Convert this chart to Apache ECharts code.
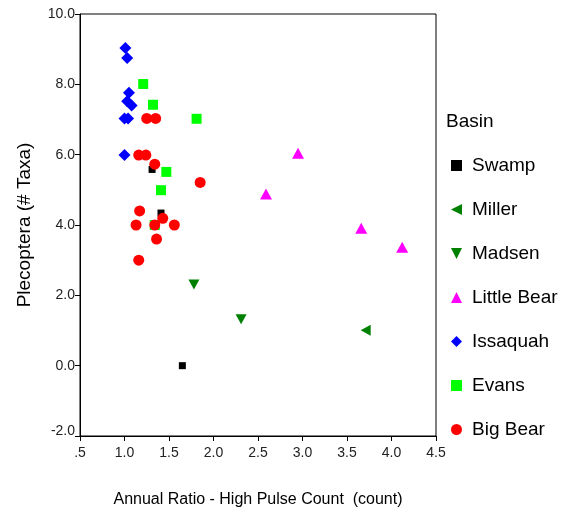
<!DOCTYPE html>
<html>
<head>
<meta charset="utf-8">
<script src="https://cdn.jsdelivr.net/npm/echarts@6/dist/echarts.min.js"></script>
<style>
  html, body { margin: 0; padding: 0; background: #fff; }
  #chart { width: 564px; height: 513px; }
</style>
</head>
<body>
<div id="chart"></div>
<script>
// [annual ratio high pulse count, plecoptera taxa]
const basins = ['Swamp', 'Miller', 'Madsen', 'Little Bear', 'Issaquah', 'Evans', 'Big Bear']
const swamp = [[1.31, 5.58], [1.41, 4.34], [1.35, 4.0], [1.65, 0.0]]
const miller = [[3.71, 1.01]]
const madsen = [[1.78, 2.31], [2.31, 1.32]]
const littleBear = [[2.95, 6.04], [2.59, 4.88], [3.66, 3.91], [4.12, 3.37]]
const issaquah = [[1.01, 9.03], [1.03, 8.75], [1.05, 7.76], [1.03, 7.52], [1.08, 7.4], [1.0, 7.03], [1.04, 7.03], [1.0, 5.99]]
const evans = [[1.21, 8.01], [1.32, 7.42], [1.81, 7.02], [1.47, 5.51], [1.41, 4.99], [1.34, 4.0]]
const bigBear = [[1.25, 7.03], [1.35, 7.03], [1.16, 5.99], [1.24, 5.99], [1.34, 5.73], [1.85, 5.21],
  [1.17, 4.4], [1.13, 4.0], [1.34, 4.0], [1.43, 4.19], [1.56, 4.0], [1.36, 3.6], [1.16, 3.0]]

const xTicks = { min: 0.5, max: 4.5, step: 0.5 }
const yTicks = { min: -2, max: 10, step: 2 }

const font = 'Liberation Sans, Arial, sans-serif'

function mk(name, data, symbol, size, color) {
  return {
    name: name,
    type: 'scatter',
    data: data,
    symbol: symbol,
    symbolSize: size,
    itemStyle: { color: color, opacity: 1 },
    emphasis: { disabled: true }
  }
}

let myChart = echarts.init(document.getElementById('chart'))
myChart.setOption({
  animation: false,
  title: {
    text: 'Basin',
    left: 441,
    top: 107,
    textStyle: { fontFamily: font, fontSize: 19, fontWeight: 'normal', color: '#000' }
  },
  legend: {
    orient: 'vertical',
    left: 446,
    top: 151,
    itemGap: 25,
    itemWidth: 11,
    itemHeight: 11,
    data: basins,
    selectedMode: false,
    textStyle: { fontFamily: font, fontSize: 19, color: '#000', padding: [0, 0, 0, 5] }
  },
  grid: {
    left: 80,
    right: 128,
    top: 14,
    bottom: 75,
    show: true,
    borderColor: '#000',
    borderWidth: 1
  },
  xAxis: {
    type: 'value',
    min: xTicks.min,
    max: xTicks.max,
    interval: xTicks.step,
    name: 'Annual Ratio - High Pulse Count  (count)',
    nameLocation: 'middle',
    nameGap: 56,
    nameTextStyle: { fontFamily: font, fontSize: 16, color: '#000' },
    axisLine: { onZero: false, lineStyle: { color: '#000' } },
    axisTick: { length: 5, lineStyle: { color: '#000' } },
    axisLabel: {
      fontFamily: font, fontSize: 14, color: '#222', margin: 10,
      formatter: v => v === 0.5 ? '.5' : v.toFixed(1)
    },
    splitLine: { show: false }
  },
  yAxis: {
    type: 'value',
    min: yTicks.min,
    max: yTicks.max,
    interval: yTicks.step,
    name: 'Plecoptera (# Taxa)',
    nameLocation: 'middle',
    nameGap: 46,
    nameTextStyle: { fontFamily: font, fontSize: 19, color: '#000' },
    axisLine: { onZero: false, lineStyle: { color: '#000' } },
    axisTick: { length: 5, lineStyle: { color: '#000' } },
    axisLabel: {
      fontFamily: font, fontSize: 14, color: '#222', margin: 5,
      formatter: v => v === yTicks.min ? '{lo|' + v.toFixed(1) + '}' : v.toFixed(1),
      rich: { lo: { fontFamily: font, fontSize: 14, color: '#222', padding: [0, 0, 10, 0] } }
    },
    splitLine: { show: false }
  },
  series: [
    mk('Swamp', swamp, 'rect', 7, '#000000'),
    mk('Miller', miller, 'path://M0,5 L10,0 L10,10 Z', [10, 11], '#008000'),
    mk('Madsen', madsen, 'path://M0,0 L10,0 L5,10 Z', [11, 10], '#008000'),
    mk('Little Bear', littleBear, 'triangle', [12, 11], '#ff00ff'),
    mk('Issaquah', issaquah, 'diamond', [12, 12], '#0000ff'),
    mk('Evans', evans, 'rect', 10, '#00ff00'),
    mk('Big Bear', bigBear, 'circle', 11, '#ff0000')
  ]
})
</script>
</body>
</html>
